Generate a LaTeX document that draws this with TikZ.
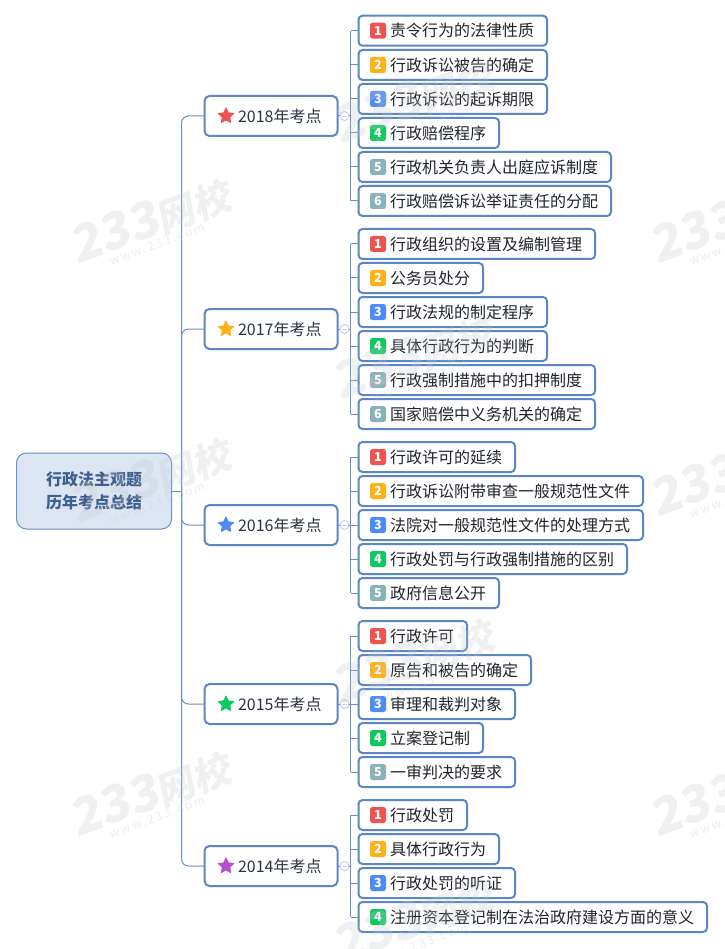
\documentclass[tikz,border=0pt]{standalone}
\usepackage{fontspec}
\setmainfont{Noto Sans CJK SC}
\newfontfamily\wmfont[FakeSlant=0.16]{Noto Sans CJK SC}
\usetikzlibrary{shapes.geometric}
\definecolor{bluebox}{HTML}{5B87C4}
\definecolor{linkc}{HTML}{6A90C4}
\definecolor{rootfill}{HTML}{DCE6F3}
\definecolor{roottext}{HTML}{3F5F8E}
\definecolor{bodytext}{HTML}{20252C}
\definecolor{partext}{HTML}{2A3344}
\definecolor{ringc}{HTML}{C9D3E6}
\definecolor{cA}{HTML}{EE5350}
\definecolor{cB}{HTML}{FFB217}
\definecolor{cC}{HTML}{4D8BF8}
\definecolor{cD}{HTML}{0FC95F}
\definecolor{cE}{HTML}{8AB2BB}
\definecolor{cF}{HTML}{B84FD0}
\definecolor{wmc}{HTML}{C4C8CC}
\tikzset{
  link/.style={draw=linkc,line width=1pt},
  childbox/.style={draw=bluebox,line width=2pt,fill=white,rounded corners=4pt,inner sep=0pt,outer sep=0pt,minimum height=30pt,anchor=west,text=bodytext,font=\fontsize{16}{18}\selectfont},
  badge/.style={fill=#1,rounded corners=2.5pt,minimum size=16pt,inner sep=0pt,text=white,font=\fontsize{12.5}{13}\selectfont\bfseries},
  parbox/.style={draw=bluebox,line width=2pt,fill=white,rounded corners=5pt,inner sep=0pt,outer sep=0pt,minimum height=40pt,minimum width=133pt,anchor=west,text=partext,font=\fontsize{16}{18}\selectfont},
  starmark/.style={star,star points=5,star point ratio=2.1,fill=#1,draw=#1,line join=round,line width=1pt,inner sep=0pt,minimum size=16pt},
  ring/.style={circle,draw=ringc,line width=1pt,fill=white,minimum size=9pt,inner sep=0pt,outer sep=0pt},
  rootbox/.style={draw=linkc,line width=1pt,fill=rootfill,rounded corners=10pt,minimum width=155pt,minimum height=76pt,inner sep=0pt,outer sep=0pt,text=roottext,align=center,font=\fontsize{16}{23}\selectfont\bfseries},
  wmbig/.style={text=wmc,text opacity=.26,rotate=20,font=\wmfont\bfseries,inner sep=0pt},
  wmsmall/.style={text=wmc,text opacity=.3,rotate=20,font=\fontsize{12}{13}\selectfont,inner sep=0pt}
}
% spine, name, y, right edge, colour, number, text
\newcommand{\cnode}[7]{%
  \node[childbox] (#2) at (358.5,#3) {\makebox[\dimexpr #4pt-358.5pt\relax][l]{\hspace{31.5pt}\raisebox{-.7pt}{#7}}};
  \node[badge=#5] (#2b) at (378,#3) {#6};
  \draw[link] (#2.west) -- (#2.west -| #1);
}
\newcommand{\pnode}[4]{%
  \node[parbox] (#1) at (204.5,#2) {\makebox[133pt][l]{\hspace{33.5pt}\raisebox{-.5pt}{#3年考点}}};
  \node[starmark=#4] (#1star) at (226,#2) {};
  \node[ring] (#1ring) at (344.5,#2) {};
  \draw[draw=ringc,line width=.8pt] (#1ring.west) ++(2,0) -- ++(5,0);
  \draw[link] (#1.east) -- (#1ring.west);
}
\newcommand{\wmark}[3]{%
  \node[wmbig] (#1) at (#2,#3) {{\fontsize{50}{50}\selectfont 233}{\fontsize{38}{50}\selectfont 网校}};
  \node[wmsmall] (#1w) at ([shift={(7,24)}]#1) {w\,w\,w\,.\,2\,3\,3\,.\,c\,o\,m};
}
\begin{document}
\begin{tikzpicture}[x=1pt,y=-1pt]
\useasboundingbox (0,0) rectangle (724,949);
\fill[white] (0,0) rectangle (724,949);

\coordinate (tj) at (181.5,491);
\node[rootbox] (root) at (94,491) {行政法主观题\\历年考点总结};

\pnode{pa}{116}{2018}{cA}
\pnode{pb}{329}{2017}{cB}
\pnode{pc}{525}{2016}{cC}
\pnode{pd}{704}{2015}{cD}
\pnode{pe}{866}{2014}{cF}

\draw[link] (root.east) -- (tj);
\foreach \p in {pa,pb,pc,pd,pe}{
  \draw[link,rounded corners=7pt] (tj) |- (\p.west);
}

\coordinate (as) at (350.5,116);
\coordinate (bs) at (350.5,329);
\coordinate (cs) at (350.5,525);
\coordinate (ds) at (350.5,704);
\coordinate (es) at (350.5,866);
\foreach \p/\s in {pa/as,pb/bs,pc/cs,pd/ds,pe/es}{
  \draw[link] (\p ring.east) -- (\s);
}

% 2018
\cnode{as}{aA}{30.7}{547}{cA}{1}{责令行为的法律性质}
\cnode{as}{aB}{65}{547}{cB}{2}{行政诉讼被告的确定}
\cnode{as}{aC}{99}{547}{cC}{3}{行政诉讼的起诉期限}
\cnode{as}{aD}{133}{499}{cD}{4}{行政赔偿程序}
\cnode{as}{aE}{167}{611}{cE}{5}{行政机关负责人出庭应诉制度}
\cnode{as}{aF}{201}{611}{cE}{6}{行政赔偿诉讼举证责任的分配}
\draw[link] (aA.west -| as) -- (aF.west -| as);

% 2017
\cnode{bs}{bA}{244}{595}{cA}{1}{行政组织的设置及编制管理}
\cnode{bs}{bB}{278}{483}{cB}{2}{公务员处分}
\cnode{bs}{bC}{312}{547}{cC}{3}{行政法规的制定程序}
\cnode{bs}{bD}{346}{547}{cD}{4}{具体行政行为的判断}
\cnode{bs}{bE}{380}{595}{cE}{5}{行政强制措施中的扣押制度}
\cnode{bs}{bF}{414}{595}{cE}{6}{国家赔偿中义务机关的确定}
\draw[link] (bA.west -| bs) -- (bF.west -| bs);

% 2016
\cnode{cs}{gA}{457}{515}{cA}{1}{行政许可的延续}
\cnode{cs}{gB}{491}{643}{cB}{2}{行政诉讼附带审查一般规范性文件}
\cnode{cs}{gC}{525}{643}{cC}{3}{法院对一般规范性文件的处理方式}
\cnode{cs}{gD}{559}{627}{cD}{4}{行政处罚与行政强制措施的区别}
\cnode{cs}{gE}{593}{499}{cE}{5}{政府信息公开}
\draw[link] (gA.west -| cs) -- (gE.west -| cs);

% 2015
\cnode{ds}{dA}{636}{467}{cA}{1}{行政许可}
\cnode{ds}{dB}{670}{531}{cB}{2}{原告和被告的确定}
\cnode{ds}{dC}{704}{515}{cC}{3}{审理和裁判对象}
\cnode{ds}{dD}{738}{483}{cD}{4}{立案登记制}
\cnode{ds}{dE}{772}{515}{cE}{5}{一审判决的要求}
\draw[link] (dA.west -| ds) -- (dE.west -| ds);

% 2014
\cnode{es}{eA}{815}{467}{cA}{1}{行政处罚}
\cnode{es}{eB}{849}{499}{cB}{2}{具体行政行为}
\cnode{es}{eC}{883}{515}{cC}{3}{行政处罚的听证}
\cnode{es}{eD}{917}{707}{cD}{4}{注册资本登记制在法治政府建设方面的意义}
\draw[link] (eA.west -| es) -- (eD.west -| es);

% watermarks
\wmark{wa}{150}{220}
\wmark{wb}{150}{479}
\wmark{wc}{150}{793}
\wmark{wd}{413}{100}
\wmark{we}{413}{356}
\wmark{wf}{413}{660}
\wmark{wg}{413}{920}
\wmark{wh}{730}{220}
\wmark{wi}{730}{473}
\wmark{wj}{730}{793}
\end{tikzpicture}
\end{document}
